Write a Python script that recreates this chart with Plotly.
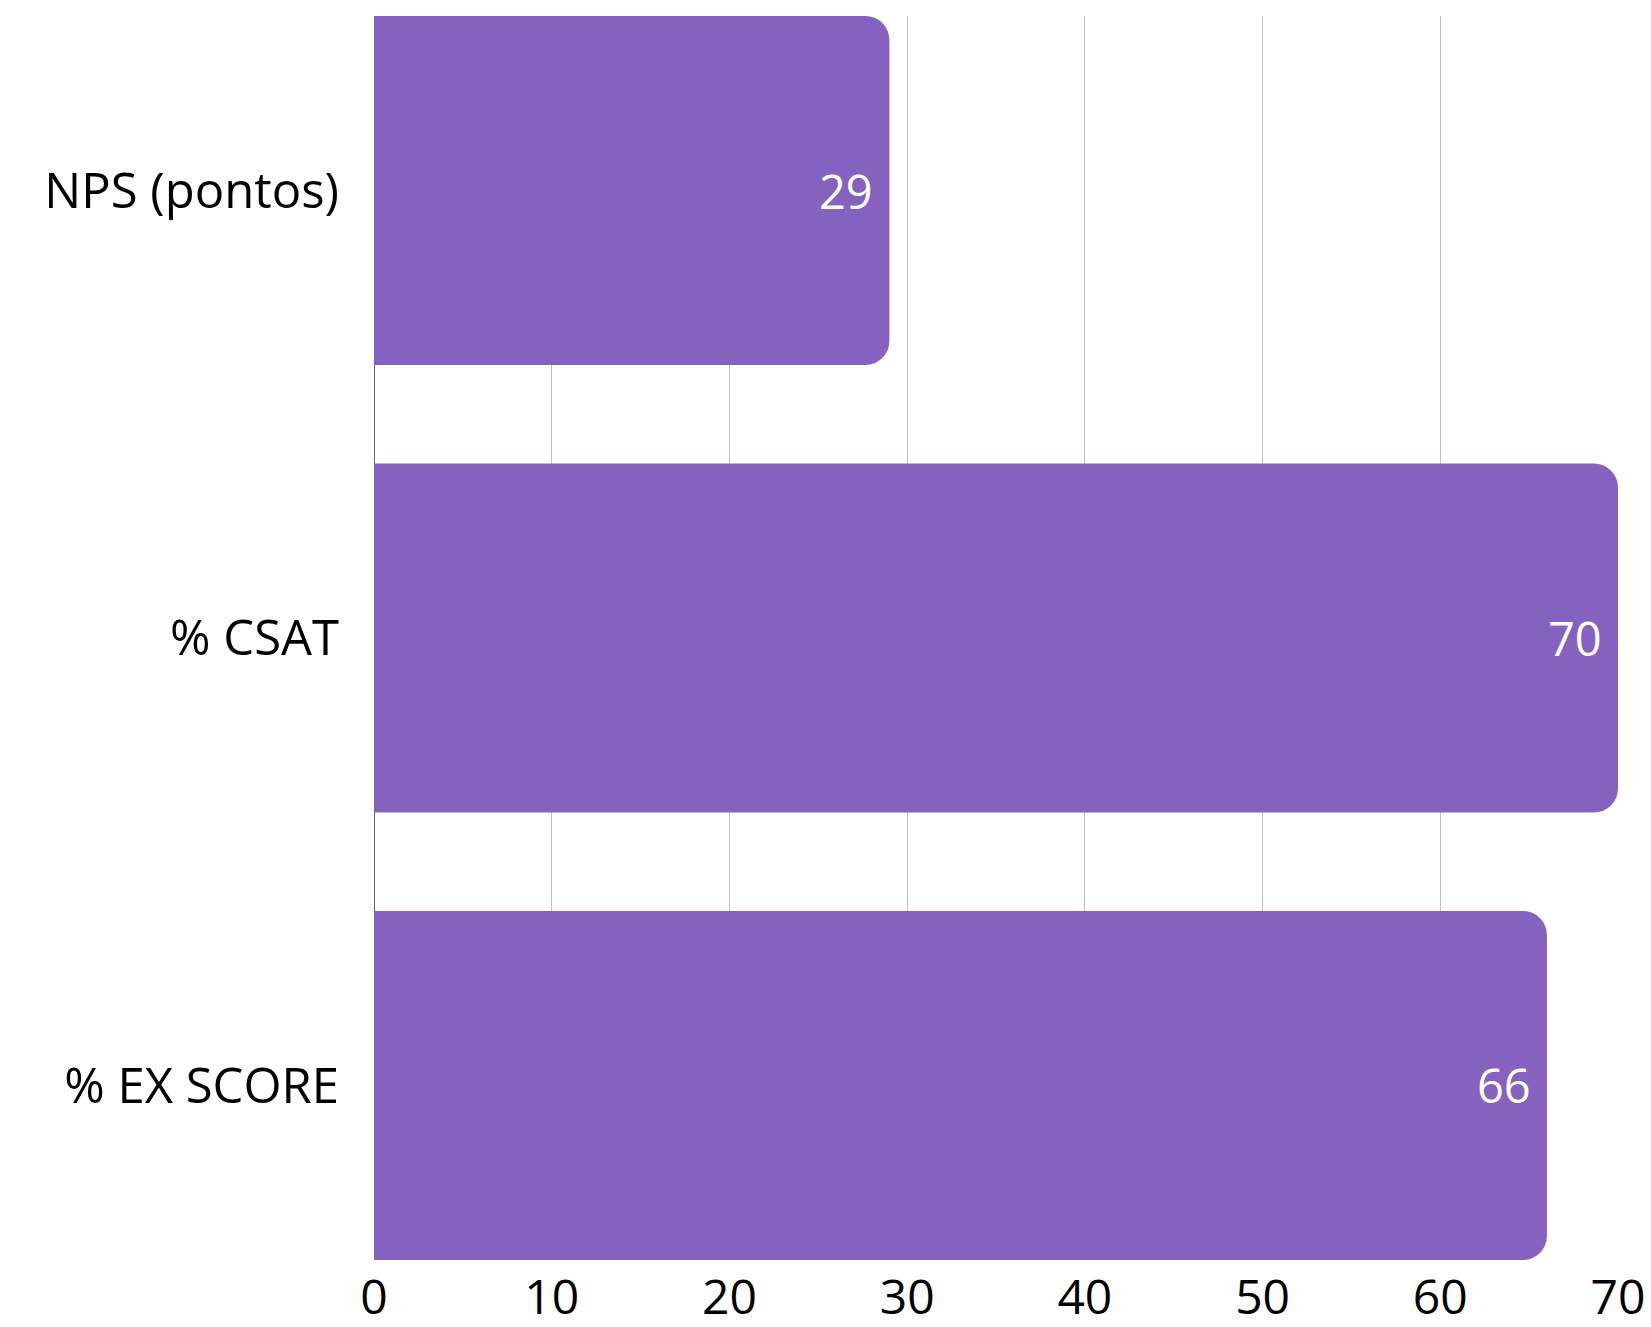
import plotly.graph_objects as go

categories = ["NPS (pontos)", "% CSAT", "% EX SCORE"]
values = [29, 70, 66]
x_ticks = [0, 10, 20, 30, 40, 50, 60, 70]

BAR_COLOR = "#8562bf"
FONT = "Open Sans"
BARGAP = 0.22

fig = go.Figure()
fig.add_trace(go.Bar(
    x=values,
    y=categories,
    orientation="h",
    marker=dict(color=BAR_COLOR, line=dict(width=0)),
    textposition="none",
    hoverinfo="skip",
))

for c, v in zip(categories, values):
    fig.add_annotation(
        x=v, y=c, xref="x", yref="y",
        text=str(v), showarrow=False,
        xanchor="right", yanchor="middle", xshift=-14,
        font=dict(family=FONT, size=47, color="white"),
    )

half = (1 - BARGAP) / 2
fig.update_layout(
    width=1651, height=1327,
    margin=dict(l=374, r=33, t=16, b=67),
    paper_bgcolor="white", plot_bgcolor="white",
    bargap=BARGAP,
    barcornerradius=24,
    showlegend=False,
    font=dict(family=FONT, size=49, color="black"),
)
fig.update_xaxes(
    range=[0, 70], tickvals=x_ticks, ticktext=[str(t) for t in x_ticks],
    showgrid=True, gridcolor="#bfbfbf", gridwidth=1.2,
    zeroline=True, zerolinecolor="#666666", zerolinewidth=1,
    showline=False, ticks="", ticklabelstandoff=5, automargin=False,
    tickfont=dict(family=FONT, size=48, color="black"),
)
fig.update_yaxes(
    categoryorder="array", categoryarray=categories,
    range=[len(categories) - 1 + half, -half],
    showgrid=False, ticks="", showline=False, ticklabelstandoff=34,
    automargin=False,
    tickfont=dict(family=FONT, size=49, color="black"),
)

fig.write_html("out.html")
